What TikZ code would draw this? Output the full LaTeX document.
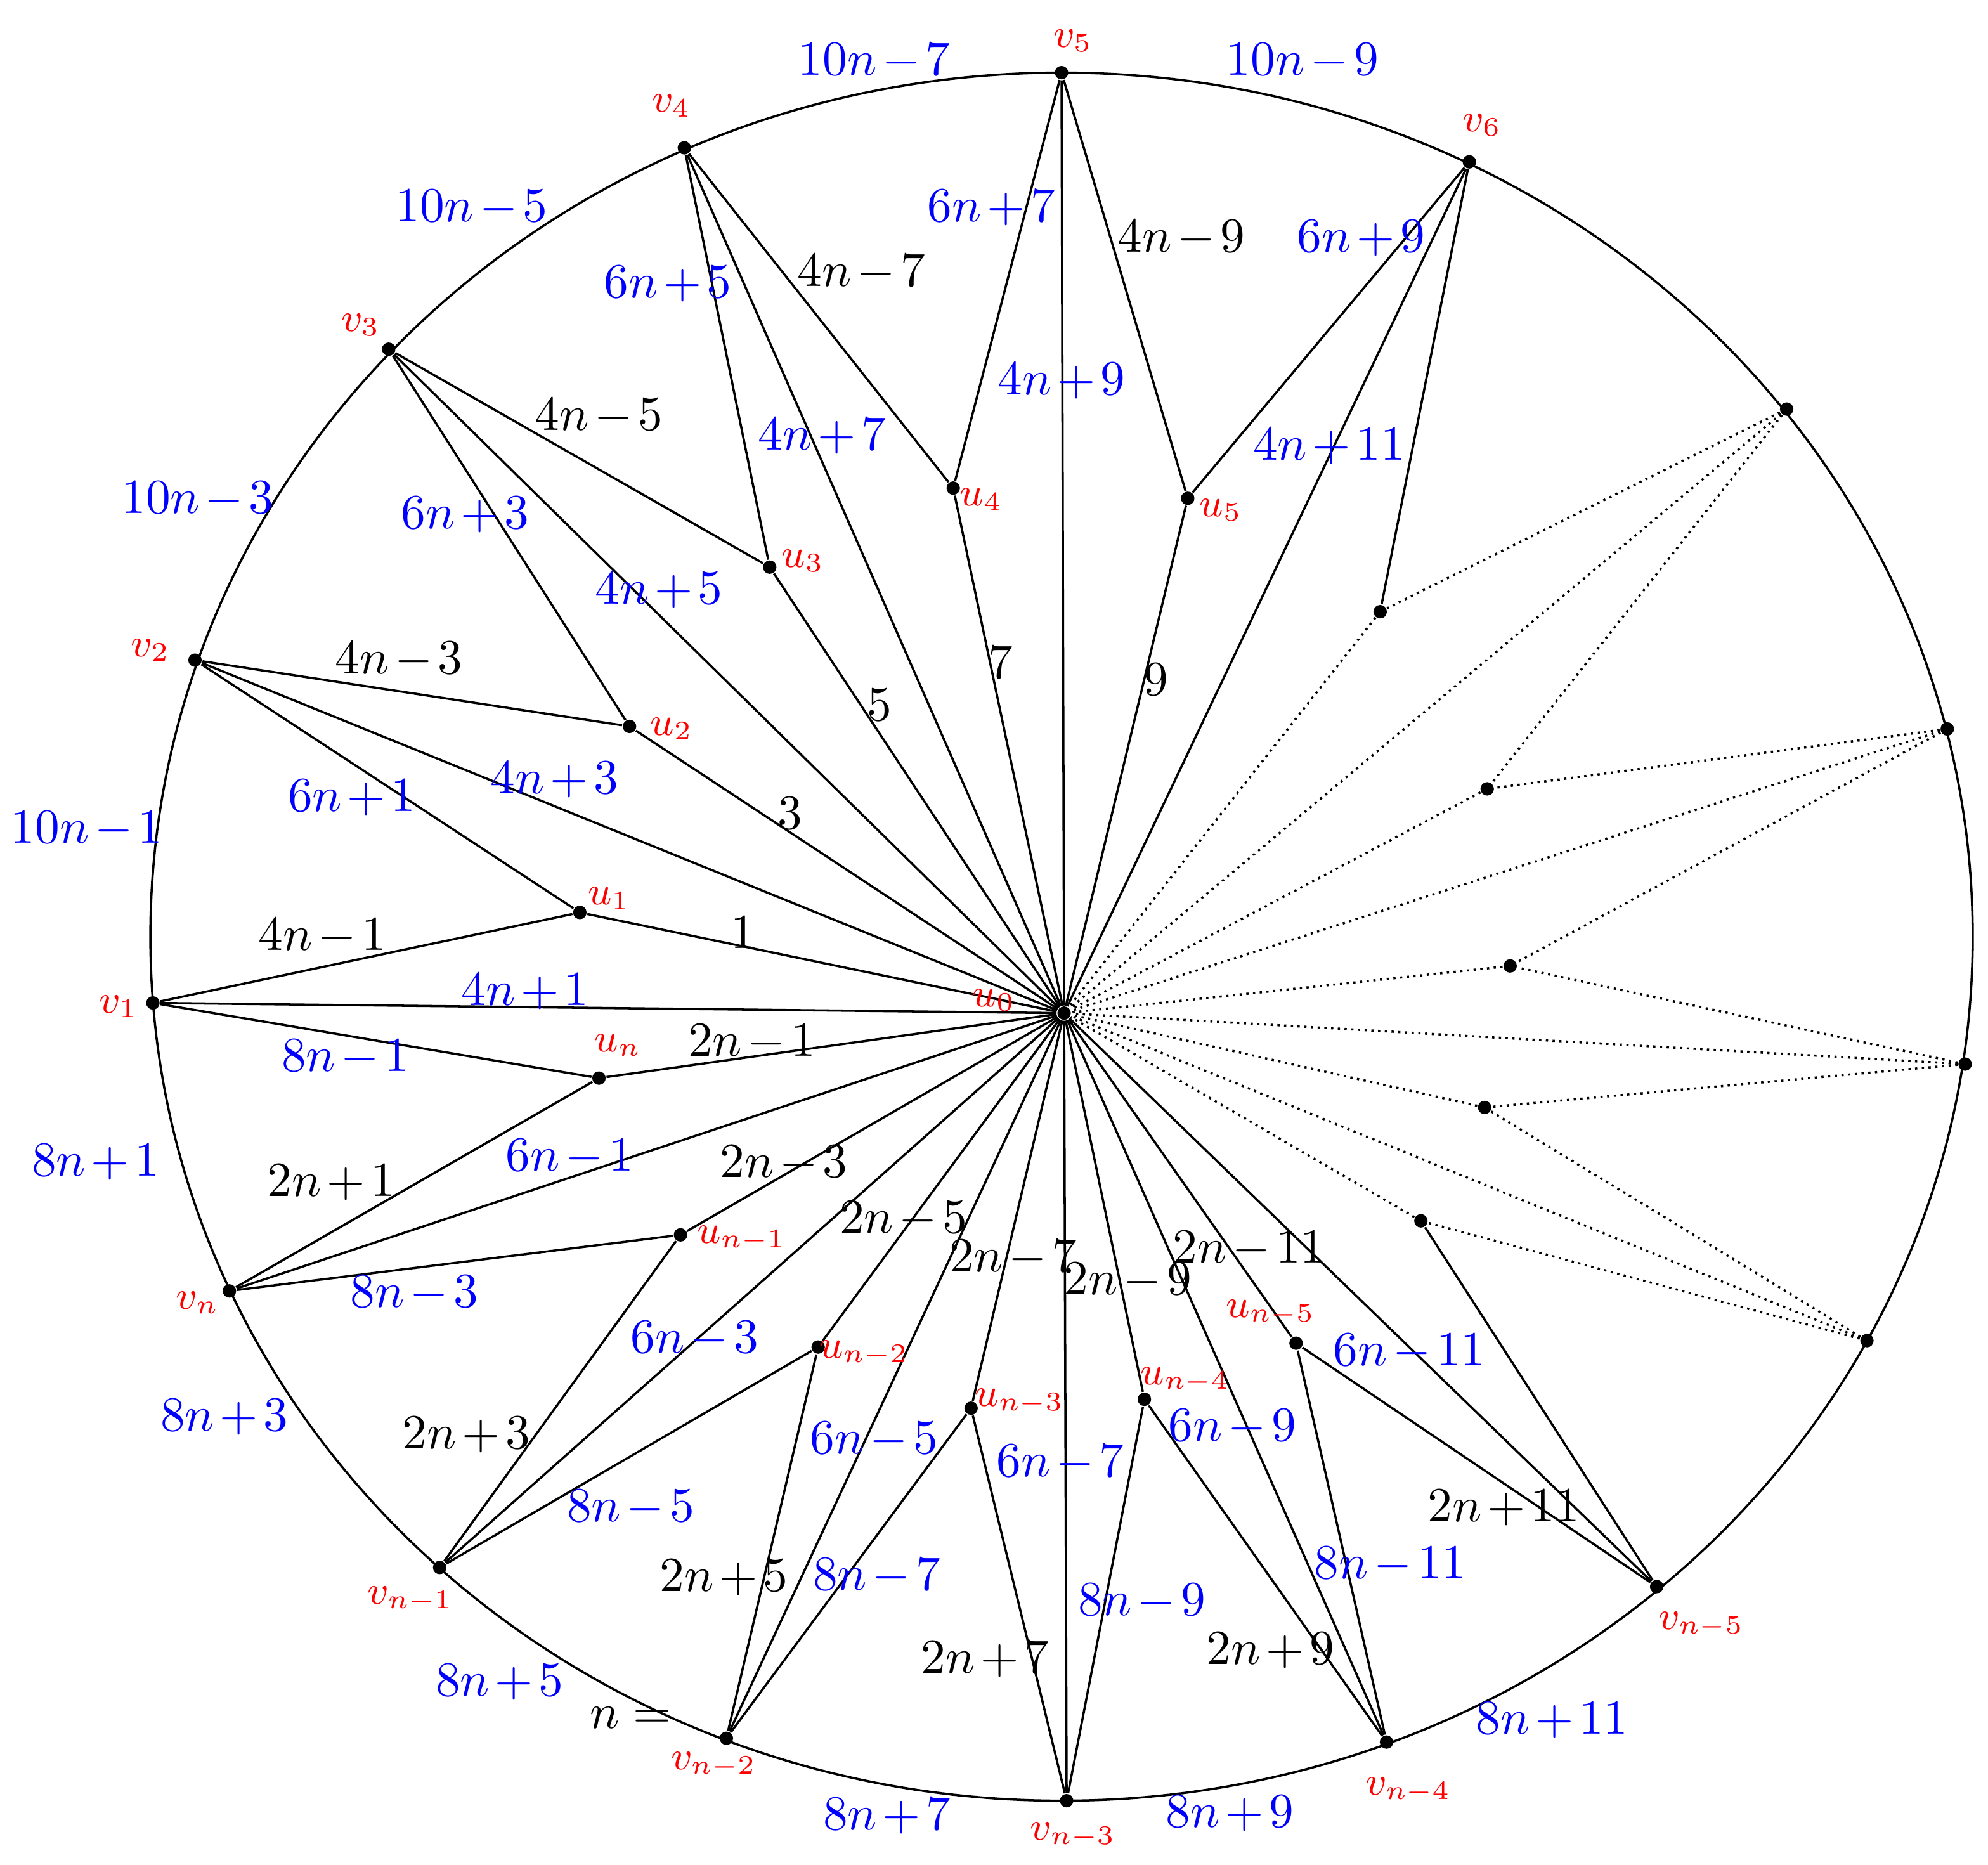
\documentclass[tikz,border=0pt]{standalone}
\usepackage{fontspec}
\setmainfont{Liberation Serif}
\medmuskip=2mu plus 1mu minus 1mu
\begin{document}
\begin{tikzpicture}[x=0.01cm,y=-0.01cm,
  pt/.style={circle,fill=black,inner sep=0pt,minimum size=3pt},
  ed/.style={line width=0.5pt},
  dt/.style={line width=0.5pt,densely dotted},
  bl/.style={text=blue,font=\fontsize{11}{13}\selectfont,inner sep=1pt},
  bk/.style={text=black,font=\fontsize{11}{13}\selectfont,inner sep=1pt},
  rd/.style={text=red,font=\fontsize{9}{11}\selectfont,inner sep=1pt}]
\useasboundingbox (0,0) rectangle (1560,1463);
\draw[line width=0.5pt] (833,735) ellipse [x radius=715, y radius=678];
\foreach \n/\x/\y in {v1/120/787,v2/153/518,v3/305/274,v4/537/116,v5/833/57,v6/1153/127,
 w1/1402/321,w2/1528/572,w3/1542/835,w4/1465/1052,vn5/1300/1245,vn4/1088/1367,vn3/837/1413,
 vn2/570/1364,vn1/345/1230,vn/180/1013,
 u0/835/795,u1/455/716,u2/494/570,u3/604/445,u4/748/383,u5/932/391,u6/1083/480,
 x1/1167/619,x2/1185/758,x3/1165/869,x4/1115/958,un5/1017/1054,un4/898/1098,un3/762/1105,
 un2/642/1057,un1/534/969,un/470/846}
 \node[pt] (\n) at (\x,\y) {};
\foreach \a/\b in {v1/u1,v1/un,v2/u2,v2/u1,v3/u3,v3/u2,v4/u4,v4/u3,v5/u4,v5/u5,v6/u5,v6/u6,
 vn/un,vn/un1,vn1/un1,vn1/un2,vn2/un2,vn2/un3,vn3/un3,vn3/un4,vn4/un4,vn4/un5,vn5/un5,vn5/x4}
 \draw[ed] (\a) -- (\b);
\foreach \a in {v1,v2,v3,v4,v5,v6,vn,vn1,vn2,vn3,vn4,vn5,u1,u2,u3,u4,u5,un,un1,un2,un3,un4,un5}
 \draw[ed] (\a) -- (u0);
\foreach \a/\b in {w1/u6,w1/x1,w2/x1,w2/x2,w3/x2,w3/x3,w4/x3,w4/x4}
 \draw[dt] (\a) -- (\b);
\foreach \a in {w1,w2,w3,w4,u6,x1,x2,x3,x4}
 \draw[dt] (\a) -- (u0);
\foreach \t/\x/\y in {10n-7/686/48,10n-9/1022/48,10n-5/370/163,10n-3/155/392,10n-1/68/651,
 8n+1/75/912,8n+3/176/1112,8n+5/392/1320,8n+7/696/1425,8n+9/965/1423,8n+11/1218/1350,
 6n+7/778/163,6n+9/1068/187,6n+5/524/223,6n+3/365/404,6n+1/276/626,4n+9/833/299,
 4n+11/1043/350,4n+7/645/342,4n+5/517/463,4n+3/435/612,4n+1/412/778,8n-1/271/830,
 6n-1/447/908,8n-3/325/1015,6n-3/545/1051,8n-5/495/1183,6n-5/686/1130,8n-7/688/1237,
 6n-7/832/1148,8n-9/896/1257,6n-9/967/1120,8n-11/1091/1228,6n-11/1106/1061}
 \node[bl] (b\x) at (\x,\y) {$\t$};
\foreach \t/\x/\y in {4n-9/927/187,4n-7/676/214,4n-5/470/327,4n-3/313/518,4n-1/253/735,
 1/583/732,3/620/638,5/690/553,7/785/520,9/907/533,2n-1/590/818,2n+1/260/928,2n-3/615/913,
 2n-5/709/957,2n-7/795/987,2n-9/885/1005,2n-11/980/980,2n+3/366/1126,2n+5/568/1238,
 2n+7/773/1302,2n+9/997/1295,2n+11/1180/1183,n=/495/1348}
 \node[bk] (k\x) at (\x,\y) {$\t$};
\foreach \t/\x/\y in {v_5/842/32,v_4/527/83,v_6/1163/98,v_3/283/255,v_2/118/510,v_1/93/790,
 v_n/155/1022,v_{n-1}/322/1255,v_{n-2}/560/1385,v_{n-3}/842/1440,v_{n-4}/1105/1405,
 v_{n-5}/1335/1275,u_1/478/705,u_2/527/572,u_3/630/440,u_4/770/392,u_5/958/400,u_0/780/785,
 u_n/485/820,u_{n-1}/582/972,u_{n-2}/678/1062,u_{n-3}/800/1100,u_{n-4}/930/1083,u_{n-5}/997/1030}
 \node[rd] (r\x) at (\x,\y) {$\t$};
\end{tikzpicture}
\end{document}
